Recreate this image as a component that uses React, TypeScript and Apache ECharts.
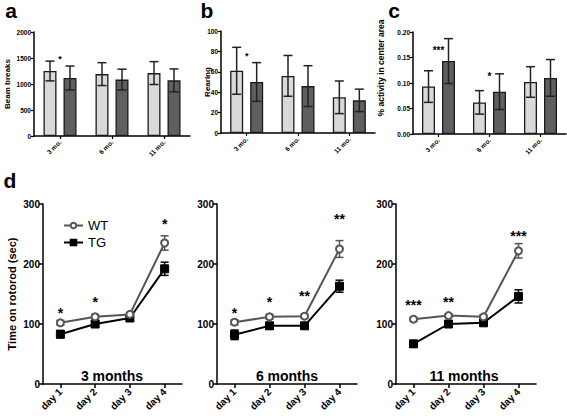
import React, { useEffect, useRef } from 'react';
import * as echarts from 'echarts';

// ---------- data ----------
const barCategories = ['3 mo.', '6 mo.', '11 mo.'];
const beamWT = [1250, 1190, 1210];
const beamWTErr = [190, 220, 220];
const beamTG = [1115, 1085, 1070];
const beamTGErr = [230, 200, 220];
const beamStars: [number, number, string][] = [[0, 1520, '*']];

const rearWT = [61, 56, 35];
const rearWTErr = [23, 20, 16];
const rearTG = [50, 46, 32];
const rearTGErr = [19, 20, 11];
const rearStars: [number, number, string][] = [[0, 78, '*']];

const centerWT = [0.093, 0.062, 0.102];
const centerWTErr = [0.031, 0.023, 0.030];
const centerTG = [0.143, 0.083, 0.110];
const centerTGErr = [0.044, 0.035, 0.036];
const centerStars: [number, number, string][] = [[0, 0.169, '***'], [1, 0.118, '*']];

const days = ['day 1', 'day 2', 'day 3', 'day 4'];
const wt3 = [102, 112, 116, 235];
const wt3Err = [4, 4, 3, 12];
const tg3 = [83, 100, 110, 192];
const tg3Err = [6, 4, 3, 11];
const stars3: [number, number, string][] = [[0, 125, '*'], [1, 142, '*'], [3, 273, '*']];

const wt6 = [103, 112, 113, 225];
const wt6Err = [4, 4, 3, 14];
const tg6 = [82, 97, 97, 163];
const tg6Err = [8, 5, 4, 10];
const stars6: [number, number, string][] = [[0, 125, '*'], [1, 142, '*'], [2, 152, '**'], [3, 281, '**']];

const wt11 = [108, 114, 112, 222];
const wt11Err = [3, 3, 3, 12];
const tg11 = [67, 100, 102, 146];
const tg11Err = [5, 5, 4, 11];
const stars11: [number, number, string][] = [[0, 137, '***'], [1, 142, '**'], [3, 253, '***']];

const panelTitles = ['3 months', '6 months', '11 months'];

// ---------- styles ----------
const FONT = 'Liberation Sans, Arial, sans-serif';
const WT_FILL = '#d9d9d9';
const TG_FILL = '#5f5f5f';
const EDGE = '#1a1a1a';
const WT_LINE = '#555555';

const errItem = (offset: number, capHalf: number, color: string, width: number) =>
  (params: any, api: any) => {
    const idx = api.value(0);
    const m = api.value(1);
    const e = api.value(2);
    const top = api.coord([idx, m + e]);
    const bot = api.coord([idx, m - e]);
    const x = top[0] + offset;
    const st = { stroke: color, lineWidth: width, fill: null };
    return {
      type: 'group',
      children: [
        { type: 'line', shape: { x1: x, y1: top[1], x2: x, y2: bot[1] }, style: st },
        { type: 'line', shape: { x1: x - capHalf, y1: top[1], x2: x + capHalf, y2: top[1] }, style: st },
        { type: 'line', shape: { x1: x - capHalf, y1: bot[1], x2: x + capHalf, y2: bot[1] }, style: st },
      ],
    };
  };

const starItem = (fontSize: number, stars: [number, number, string][]) => (params: any, api: any) => {
  const s = stars[params.dataIndex];
  const p = api.coord([s[0], s[1]]);
  return {
    type: 'text',
    x: p[0],
    y: p[1] + fontSize * 0.25,
    style: {
      text: s[2],
      fontSize,
      fontWeight: 'bold',
      fontFamily: FONT,
      fill: '#000',
      align: 'center',
      verticalAlign: 'middle',
    },
  };
};

const errData = (vals: number[], errs: number[]) => vals.map((v, i) => [i, v, errs[i]]);
const starData = (stars: [number, number, string][]) => stars.map((s) => [s[0], s[1]]);

export default function App() {
  const ref = useRef<HTMLDivElement>(null);
  useEffect(() => {
    if (!ref.current) return;
    const chart = echarts.init(ref.current, undefined, { renderer: 'svg' });

    const grids = [
      { left: 34, top: 32, width: 156, height: 104 },
      { left: 221, top: 31, width: 154, height: 102 },
      { left: 413, top: 32, width: 153, height: 102 },
      { left: 43, top: 204, width: 139, height: 180 },
      { left: 217, top: 204, width: 140, height: 180 },
      { left: 396, top: 204, width: 140, height: 180 },
    ];

    const axisLine = { show: true, lineStyle: { color: '#000', width: 1.5 } };
    const barX = (gi: number) => ({
      type: 'category',
      gridIndex: gi,
      data: barCategories,
      axisLine,
      axisTick: { show: true, alignWithLabel: true, length: 3, lineStyle: { color: '#000', width: 1.2 } },
      axisLabel: {
        rotate: 45,
        fontSize: 6.5,
        fontWeight: 'bold',
        color: '#000',
        fontFamily: FONT,
        margin: 5,
      },
    });
    const lineX = (gi: number) => ({
      type: 'category',
      gridIndex: gi,
      data: days,
      axisLine,
      axisTick: { show: true, alignWithLabel: true, length: 4, lineStyle: { color: '#000', width: 1.5 } },
      axisLabel: {
        rotate: 45,
        fontSize: 10,
        fontWeight: 'bold',
        color: '#000',
        fontFamily: FONT,
        margin: 6,
      },
    });
    const barY = (gi: number, max: number, interval: number, fmt: (v: number) => string) => ({
      type: 'value',
      gridIndex: gi,
      min: 0,
      max,
      interval,
      axisLine,
      splitLine: { show: false },
      axisTick: { show: true, length: 3, lineStyle: { color: '#000', width: 1.2 } },
      axisLabel: {
        fontSize: 6.5,
        fontWeight: 'bold',
        color: '#000',
        fontFamily: FONT,
        margin: 3,
        formatter: fmt,
      },
    });
    const lineY = (gi: number) => ({
      type: 'value',
      gridIndex: gi,
      min: 0,
      max: 300,
      interval: 100,
      axisLine,
      splitLine: { show: false },
      axisTick: { show: true, length: 4, lineStyle: { color: '#000', width: 1.5 } },
      axisLabel: { fontSize: 10, fontWeight: 'bold', color: '#000', fontFamily: FONT, margin: 3 },
    });

    const series: any[] = [];

    const lineSets = [
      { wt: wt3, wtE: wt3Err, tg: tg3, tgE: tg3Err, stars: stars3 },
      { wt: wt6, wtE: wt6Err, tg: tg6, tgE: tg6Err, stars: stars6 },
      { wt: wt11, wtE: wt11Err, tg: tg11, tgE: tg11Err, stars: stars11 },
    ];
    lineSets.forEach((s, k) => {
      const ax = 3 + k;
      series.push({
        type: 'line',
        name: 'WT',
        xAxisIndex: ax,
        yAxisIndex: ax,
        data: s.wt,
        symbol: 'circle',
        symbolSize: 7,
        lineStyle: { color: WT_LINE, width: 2 },
        itemStyle: { color: '#fff', borderColor: WT_LINE, borderWidth: 2 },
        z: 4,
      });
      series.push({
        type: 'line',
        name: 'TG',
        xAxisIndex: ax,
        yAxisIndex: ax,
        data: s.tg,
        symbol: 'rect',
        symbolSize: 8,
        lineStyle: { color: '#000', width: 2 },
        itemStyle: { color: '#000', borderColor: '#000', borderWidth: 1 },
        z: 3,
      });
      series.push({
        type: 'custom',
        name: 'WT-err',
        xAxisIndex: ax,
        yAxisIndex: ax,
        data: errData(s.wt, s.wtE),
        renderItem: errItem(0, 4, WT_LINE, 1.5),
        z: 1,
        silent: true,
      });
      series.push({
        type: 'custom',
        name: 'TG-err',
        xAxisIndex: ax,
        yAxisIndex: ax,
        data: errData(s.tg, s.tgE),
        renderItem: errItem(0, 4, '#000', 1.5),
        z: 1,
        silent: true,
      });
      series.push({
        type: 'custom',
        name: 'stars',
        xAxisIndex: ax,
        yAxisIndex: ax,
        data: starData(s.stars),
        renderItem: starItem(14, s.stars),
        z: 5,
        silent: true,
      });
    });

    const barSets = [
      { wt: beamWT, wtE: beamWTErr, tg: beamTG, tgE: beamTGErr, stars: beamStars, sf: 9 },
      { wt: rearWT, wtE: rearWTErr, tg: rearTG, tgE: rearTGErr, stars: rearStars, sf: 9 },
      { wt: centerWT, wtE: centerWTErr, tg: centerTG, tgE: centerTGErr, stars: centerStars, sf: 10 },
    ];
    barSets.forEach((s, k) => {
      const common = { xAxisIndex: k, yAxisIndex: k };
      series.push({
        type: 'bar',
        name: 'WT-bar',
        ...common,
        data: s.wt,
        barWidth: 13,
        barGap: '54%',
        itemStyle: { color: WT_FILL, borderColor: EDGE, borderWidth: 1.3 },
        z: 2,
      });
      series.push({
        type: 'bar',
        name: 'TG-bar',
        ...common,
        data: s.tg,
        barWidth: 13,
        barGap: '54%',
        itemStyle: { color: TG_FILL, borderColor: EDGE, borderWidth: 1.3 },
        z: 2,
      });
      series.push({
        type: 'custom',
        name: 'WT-bar-err',
        ...common,
        data: errData(s.wt, s.wtE),
        renderItem: errItem(-10, 4.5, '#222', 1.5),
        z: 4,
        silent: true,
      });
      series.push({
        type: 'custom',
        name: 'TG-bar-err',
        ...common,
        data: errData(s.tg, s.tgE),
        renderItem: errItem(10, 4.5, '#222', 1.5),
        z: 4,
        silent: true,
      });
      series.push({
        type: 'custom',
        name: 'bar-stars',
        ...common,
        data: starData(s.stars),
        renderItem: starItem(s.sf, s.stars),
        z: 5,
        silent: true,
      });
    });

    const txt = (x: number, y: number, text: string, fontSize: number, extra: any = {}) => ({
      type: 'text',
      x,
      y,
      ...extra,
      style: {
        text,
        fontSize,
        fontWeight: 'bold',
        fontFamily: FONT,
        fill: '#000',
        align: 'center',
        verticalAlign: 'middle',
      },
    });

    const option: any = {
      animation: false,
      backgroundColor: '#fff',
      grid: grids.map((g) => ({ ...g, containLabel: false })),
      xAxis: [barX(0), barX(1), barX(2), lineX(3), lineX(4), lineX(5)],
      yAxis: [
        barY(0, 2000, 500, (v: number) => String(v)),
        barY(1, 100, 20, (v: number) => String(v)),
        barY(2, 0.2, 0.05, (v: number) => v.toFixed(2)),
        lineY(3),
        lineY(4),
        lineY(5),
      ],
      legend: {
        data: ['WT', 'TG'],
        orient: 'vertical',
        left: 58,
        top: 214,
        itemWidth: 19,
        itemHeight: 7,
        itemGap: 4,
        textStyle: { fontSize: 13, fontFamily: FONT, color: '#000' },
        selectedMode: false,
      },
      series,
      graphic: [
        txt(11, 10, 'a', 21),
        txt(207, 10, 'b', 21),
        txt(394, 10, 'c', 21),
        txt(10, 180, 'd', 21),
        txt(7, 84, 'Beam breaks', 8, { rotation: Math.PI / 2 }),
        txt(207, 82, 'Rearing', 8, { rotation: Math.PI / 2 }),
        txt(381, 68, '% activity in center area', 8.5, { rotation: Math.PI / 2 }),
        txt(12, 294, 'Time on rotorod (sec)', 11, { rotation: Math.PI / 2 }),
        txt(112, 376, panelTitles[0], 14),
        txt(287, 376, panelTitles[1], 14),
        txt(464, 376, panelTitles[2], 14),
      ],
    };
    chart.setOption(option);
    return () => chart.dispose();
  }, []);
  return (
    <div
      ref={ref}
      style={{ position: 'absolute', left: 0, top: 0, width: 567, height: 416, background: '#fff' }}
    />
  );
}
